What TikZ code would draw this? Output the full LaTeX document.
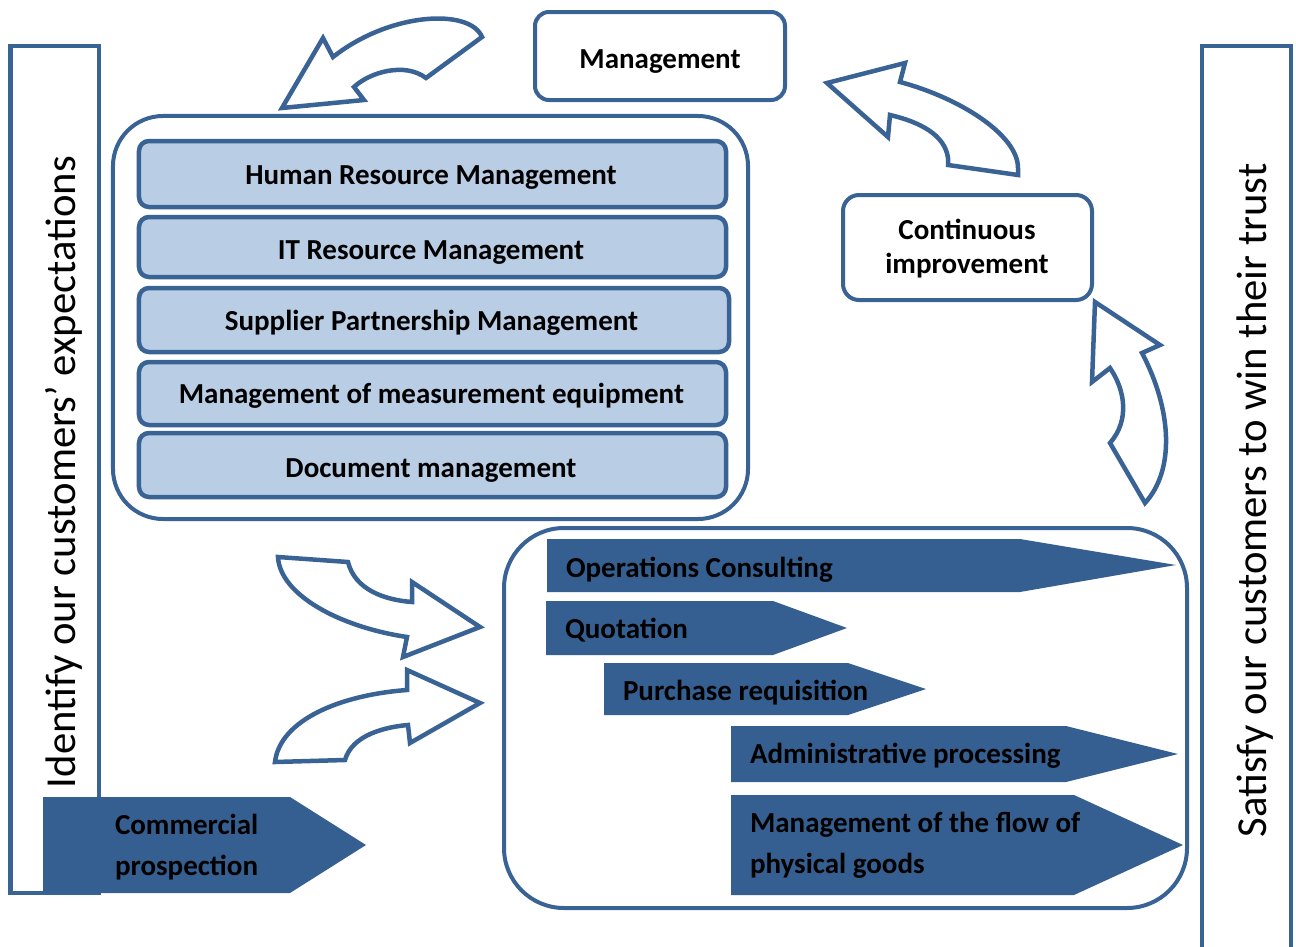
\documentclass[tikz,border=0pt]{standalone}
\usepackage{fontspec}
\setmainfont{Carlito}
\definecolor{dblue}{HTML}{3A6395}
\definecolor{pfill}{HTML}{365F91}
\definecolor{lblue}{HTML}{B9CDE5}
\begin{document}
\begin{tikzpicture}[x=1bp,y=-1bp,
  every node/.style={inner sep=0pt,outer sep=0pt},
  lab/.style={font=\bfseries\fontsize{29bp}{35bp}\selectfont,text=black},
  vlab/.style={font=\fontsize{42.7bp}{50bp}\selectfont,text=black,rotate=90,anchor=base west},
  wbox/.style={draw=dblue,line width=4bp,fill=white,rounded corners=#1},
  lbox/.style={draw=dblue,line width=4.5bp,fill=lblue,rounded corners=10bp,minimum height=#1},
  penta/.style={fill=pfill},
  barrow/.style={draw=dblue,line width=4.5bp,fill=white,line join=miter},
  bar/.style={draw=dblue,line width=4.5bp}
]
\useasboundingbox (0,0) rectangle (1296,947);

% side bars
\draw[bar] (10.5,46) rectangle (99,893);
\draw[bar] (1202,947) -- (1202,46) -- (1291,46) -- (1291,947);
\node[vlab] (lefttxt) at (75,788) {Identify our customers’ expectations};
\node[vlab] (righttxt) at (1266,837) {Satisfy our customers to win their trust};

% commercial prospection
\fill[penta] (43,797) -- (290,797) -- (366,845) -- (290,893) -- (43,893) -- cycle;
\node[lab,anchor=base west] (comm1) at (115,834) {Commercial};
\node[lab,anchor=base west] (comm2) at (115,875) {prospection};

% management
\node[wbox=14bp,minimum width=250bp,minimum height=88bp] (mgmt) at (660,56) {};
\node[lab,anchor=base] (mgmttxt) at (660,68) {Management};

% continuous improvement
\node[wbox=16bp,minimum width=249bp,minimum height=105bp] (ci) at (967.5,247.5) {};
\node[lab,anchor=base] (ci1) at (967,239) {Continuous};
\node[lab,anchor=base] (ci2) at (967,273) {improvement};

% resources box
\node[wbox=50bp,minimum width=635bp,minimum height=403bp] (res) at (430.5,317.5) {};
\node[lbox=66bp,minimum width=587bp] (hrm) at (432.5,174) {};
\node[lbox=60bp,minimum width=587bp] (itm) at (432.5,247) {};
\node[lbox=64bp,minimum width=590bp] (spm) at (434,320) {};
\node[lbox=63bp,minimum width=587bp] (mme) at (432.5,393.5) {};
\node[lbox=64bp,minimum width=587bp] (doc) at (432.5,465) {};
\node[lab,anchor=base] (hrmt) at (431,184) {Human Resource Management};
\node[lab,anchor=base] (itmt) at (431,259) {IT Resource Management};
\node[lab,anchor=base] (spmt) at (431.5,330) {Supplier Partnership Management};
\node[lab,anchor=base] (mmet) at (431.5,403) {Management of measurement equipment};
\node[lab,anchor=base] (doct) at (431,477) {Document management};

% process box
\node[wbox=60bp,minimum width=683bp,minimum height=380bp] (proc) at (845.5,718) {};
\fill[penta] (547,539) -- (1020,539) -- (1176,565) -- (1020,592) -- (547,592) -- cycle;
\fill[penta] (546,601) -- (773,601) -- (847,628) -- (773,655) -- (546,655) -- cycle;
\fill[penta] (604,663) -- (848,663) -- (926,689) -- (848,715) -- (604,715) -- cycle;
\fill[penta] (731,726) -- (1066,726) -- (1178,754) -- (1066,782) -- (731,782) -- cycle;
\fill[penta] (731,795) -- (1074,795) -- (1183,845) -- (1074,895) -- (731,895) -- cycle;
\node[lab,anchor=base west] (ops) at (566,577) {Operations Consulting};
\node[lab,anchor=base west] (quo) at (565,638) {Quotation};
\node[lab,anchor=base west] (pur) at (623,700) {Purchase requisition};
\node[lab,anchor=base west] (adm) at (750,763) {Administrative processing};
\node[lab,anchor=base west] (flow1) at (750,832) {Management of the flow of};
\node[lab,anchor=base west] (flow2) at (750,873) {physical goods};

% block arrows
\draw[barrow] (482,37) .. controls (470,8) and (390,12) .. (333,57) -- (323,38) -- (282,108)
  -- (364,100) -- (354,87) .. controls (370,72) and (405,62) .. (426,78) -- cycle;
\draw[barrow] (1018,175) -- (948,165) -- (948,158) .. controls (945,135) and (920,122) .. (890,115)
  -- (888,137) -- (827,83) -- (905,63) -- (900,82) .. controls (960,98) and (1018,135) .. (1018,168) -- cycle;
\draw[barrow] (1095,302) -- (1160,345) -- (1142,353) .. controls (1172,410) and (1175,470) .. (1145,503)
  -- (1110,443) .. controls (1130,420) and (1125,390) .. (1110,368) -- (1092,382) -- cycle;
\draw[barrow] (278,557) -- (348,562) .. controls (355,590) and (385,600) .. (412,602) -- (412,582)
  -- (480,627) -- (403,657) -- (407,637) .. controls (340,627) and (280,595) .. (278,557) -- cycle;
\draw[barrow] (275,762) -- (345,760) .. controls (352,735) and (385,727) .. (408,725) -- (410,743)
  -- (480,703) -- (407,670) -- (407,690) .. controls (340,695) and (280,720) .. (275,762) -- cycle;
\end{tikzpicture}
\end{document}
